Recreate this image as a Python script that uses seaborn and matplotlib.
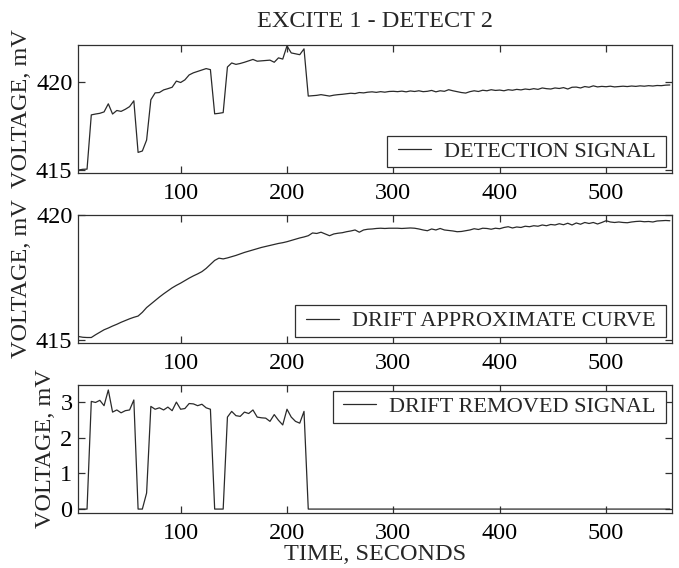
import numpy as np
import matplotlib
matplotlib.use("Agg")
import matplotlib.pyplot as plt
import seaborn as sns
from matplotlib.path import Path

# Sampling instants (s)
time_s = np.arange(4, 561, 4)

# Raw detection signal (mV)
detection_mv = [
    415.00, 415.04, 415.05, 418.13, 418.18, 418.22, 418.30, 418.76, 418.18, 418.38, 418.33, 418.45, 418.60, 418.93, 416.00,
    416.08, 416.70, 418.99, 419.38, 419.40, 419.55, 419.62, 419.70, 420.05, 419.97, 420.12, 420.40, 420.52, 420.60, 420.68,
    420.76, 420.70, 418.19, 418.22, 418.26, 420.85, 421.08, 421.00, 421.05, 421.12, 421.20, 421.28, 421.18, 421.20, 421.22,
    421.24, 421.12, 421.37, 421.30, 422.05, 421.65, 421.60, 421.55, 421.88, 419.20, 419.22, 419.24, 419.28, 419.24, 419.20,
    419.25, 419.28, 419.30, 419.33, 419.36, 419.34, 419.40, 419.38, 419.42, 419.44, 419.41, 419.45, 419.42, 419.46, 419.47,
    419.45, 419.48, 419.44, 419.49, 419.46, 419.50, 419.45, 419.47, 419.52, 419.44, 419.50, 419.47, 419.56, 419.50, 419.45,
    419.40, 419.37, 419.45, 419.50, 419.46, 419.53, 419.50, 419.56, 419.52, 419.54, 419.50, 419.56, 419.53, 419.58, 419.55,
    419.60, 419.57, 419.62, 419.58, 419.66, 419.62, 419.60, 419.66, 419.63, 419.68, 419.60, 419.70, 419.71, 419.66, 419.74,
    419.70, 419.78, 419.72, 419.75, 419.73, 419.76, 419.72, 419.74, 419.76, 419.74, 419.77, 419.75, 419.78, 419.76, 419.79,
    419.77, 419.80, 419.79, 419.82, 419.83,
]

# Approximated baseline drift (mV)
drift_mv = [
    415.13, 415.10, 415.09, 415.09, 415.20, 415.30, 415.40, 415.47, 415.55, 415.62, 415.70, 415.77, 415.84, 415.90, 415.95,
    416.10, 416.29, 416.43, 416.57, 416.71, 416.84, 416.96, 417.08, 417.18, 417.27, 417.37, 417.47, 417.56, 417.64, 417.73,
    417.86, 418.02, 418.18, 418.27, 418.24, 418.28, 418.33, 418.38, 418.44, 418.50, 418.55, 418.60, 418.65, 418.70, 418.74,
    418.78, 418.82, 418.86, 418.89, 418.93, 418.98, 419.03, 419.08, 419.12, 419.17, 419.28, 419.26, 419.31, 419.24, 419.17,
    419.24, 419.27, 419.29, 419.33, 419.36, 419.40, 419.31, 419.40, 419.43, 419.44, 419.46, 419.47, 419.46, 419.47, 419.47,
    419.47, 419.46, 419.47, 419.48, 419.47, 419.44, 419.40, 419.37, 419.44, 419.40, 419.46, 419.40, 419.38, 419.36, 419.33,
    419.34, 419.37, 419.40, 419.45, 419.42, 419.47, 419.46, 419.43, 419.47, 419.45, 419.50, 419.53, 419.48, 419.52, 419.50,
    419.55, 419.53, 419.57, 419.55, 419.60, 419.57, 419.62, 419.60, 419.65, 419.61, 419.67, 419.60, 419.68, 419.63, 419.70,
    419.66, 419.70, 419.64, 419.70, 419.77, 419.72, 419.70, 419.72, 419.70, 419.69, 419.72, 419.74, 419.75, 419.73, 419.74,
    419.72, 419.76, 419.77, 419.78, 419.77,
]

# Signal with the drift removed (mV)
removed_mv = [
    0.00, 0.00, 0.00, 3.02, 2.99, 3.05, 2.90, 3.34, 2.72, 2.78, 2.70, 2.76, 2.78, 3.06, 0.00,
    0.00, 0.45, 2.88, 2.80, 2.84, 2.78, 2.86, 2.76, 3.00, 2.80, 2.82, 2.96, 2.95, 2.90, 2.94,
    2.84, 2.80, 0.00, 0.00, 0.00, 2.58, 2.74, 2.62, 2.60, 2.72, 2.68, 2.78, 2.58, 2.56, 2.55,
    2.46, 2.65, 2.49, 2.36, 2.80, 2.58, 2.46, 2.41, 2.74, 0.00, 0.00, 0.00, 0.00, 0.00, 0.00,
    0.00, 0.00, 0.00, 0.00, 0.00, 0.00, 0.00, 0.00, 0.00, 0.00, 0.00, 0.00, 0.00, 0.00, 0.00,
    0.00, 0.00, 0.00, 0.00, 0.00, 0.00, 0.00, 0.00, 0.00, 0.00, 0.00, 0.00, 0.00, 0.00, 0.00,
    0.00, 0.00, 0.00, 0.00, 0.00, 0.00, 0.00, 0.00, 0.00, 0.00, 0.00, 0.00, 0.00, 0.00, 0.00,
    0.00, 0.00, 0.00, 0.00, 0.00, 0.00, 0.00, 0.00, 0.00, 0.00, 0.00, 0.00, 0.00, 0.00, 0.00,
    0.00, 0.00, 0.00, 0.00, 0.00, 0.00, 0.00, 0.00, 0.00, 0.00, 0.00, 0.00, 0.00, 0.00, 0.00,
    0.00, 0.00, 0.00, 0.00, 0.00,
]

series_names = ["DETECTION SIGNAL", "DRIFT APPROXIMATE CURVE", "DRIFT REMOVED SIGNAL"]
y_limits = [(414.83, 422.1), (414.87, 420.0), (-0.11, 3.48)]
y_ticks = [[415, 420], [415, 420], [0, 1, 2, 3]]
x_ticks = [100, 200, 300, 400, 500]

FS = 17.5
LEG_FS = 16

sns.set_style("ticks")
plt.rcParams.update({
    "font.family": ["Liberation Serif", "DejaVu Serif"],
    "font.size": FS,
    "axes.edgecolor": "#303030",
    "axes.linewidth": 0.9,
    "xtick.direction": "in",
    "ytick.direction": "in",
    "xtick.top": True,
    "ytick.right": True,
    "xtick.major.size": 5,
    "ytick.major.size": 5,
    "xtick.major.width": 0.9,
    "ytick.major.width": 0.9,
    "xtick.color": "#303030",
    "ytick.color": "#303030",
    "xtick.labelcolor": "black",
    "ytick.labelcolor": "black",
    "xtick.major.pad": 7,
    "ytick.major.pad": 4,
})

W, H = 679, 568
fig = plt.figure(figsize=(W / 100, H / 100), dpi=100)

ax_left, ax_right = 78, 672
panel_tops = [45, 215, 385]
panel_h = 128
axes = [
    fig.add_axes([ax_left / W, 1 - (top + panel_h) / H, (ax_right - ax_left) / W, panel_h / H])
    for top in panel_tops
]

LINE = "#2a2a2a"


def wide_frame(x0, y0, width, height, mutation_size):
    """Rectangular legend frame with extra horizontal room."""
    dx = 0.22 * mutation_size
    return Path([(x0 - dx, y0), (x0 + width + dx, y0), (x0 + width + dx, y0 + height),
                 (x0 - dx, y0 + height), (x0 - dx, y0)], closed=True)


legend_anchor = [("lower right", (0.982, 0.045)),
                 ("lower right", (0.982, 0.047)),
                 ("upper right", (0.982, 0.953))]

for ax, values, name, ylim, yt, (loc, anchor) in zip(
        axes, [detection_mv, drift_mv, removed_mv], series_names, y_limits, y_ticks, legend_anchor):
    sns.lineplot(x=time_s, y=values, ax=ax, color=LINE, linewidth=0.9, label=name)
    ax.set_xlim(3.5, 562)
    ax.set_ylim(*ylim)
    ax.set_xticks(x_ticks)
    ax.set_yticks(yt)
    ax.tick_params(labelsize=FS)
    ax.set_ylabel("VOLTAGE, mV", fontsize=FS, labelpad=3)
    ax.set_xlabel("")
    leg = ax.legend(loc=loc, bbox_to_anchor=anchor, borderaxespad=0, fontsize=LEG_FS,
                    frameon=True, fancybox=False, framealpha=1, edgecolor="#303030",
                    borderpad=0.25, handlelength=1.5, handletextpad=0.58)
    leg.get_frame().set_linewidth(0.9)
    leg.legendPatch.set_boxstyle(wide_frame)

axes[0].set_title("EXCITE 1 - DETECT 2", fontsize=FS, pad=13)
axes[2].set_xlabel("TIME, SECONDS", fontsize=FS, labelpad=0)

fig.savefig("out.png", dpi=100)
